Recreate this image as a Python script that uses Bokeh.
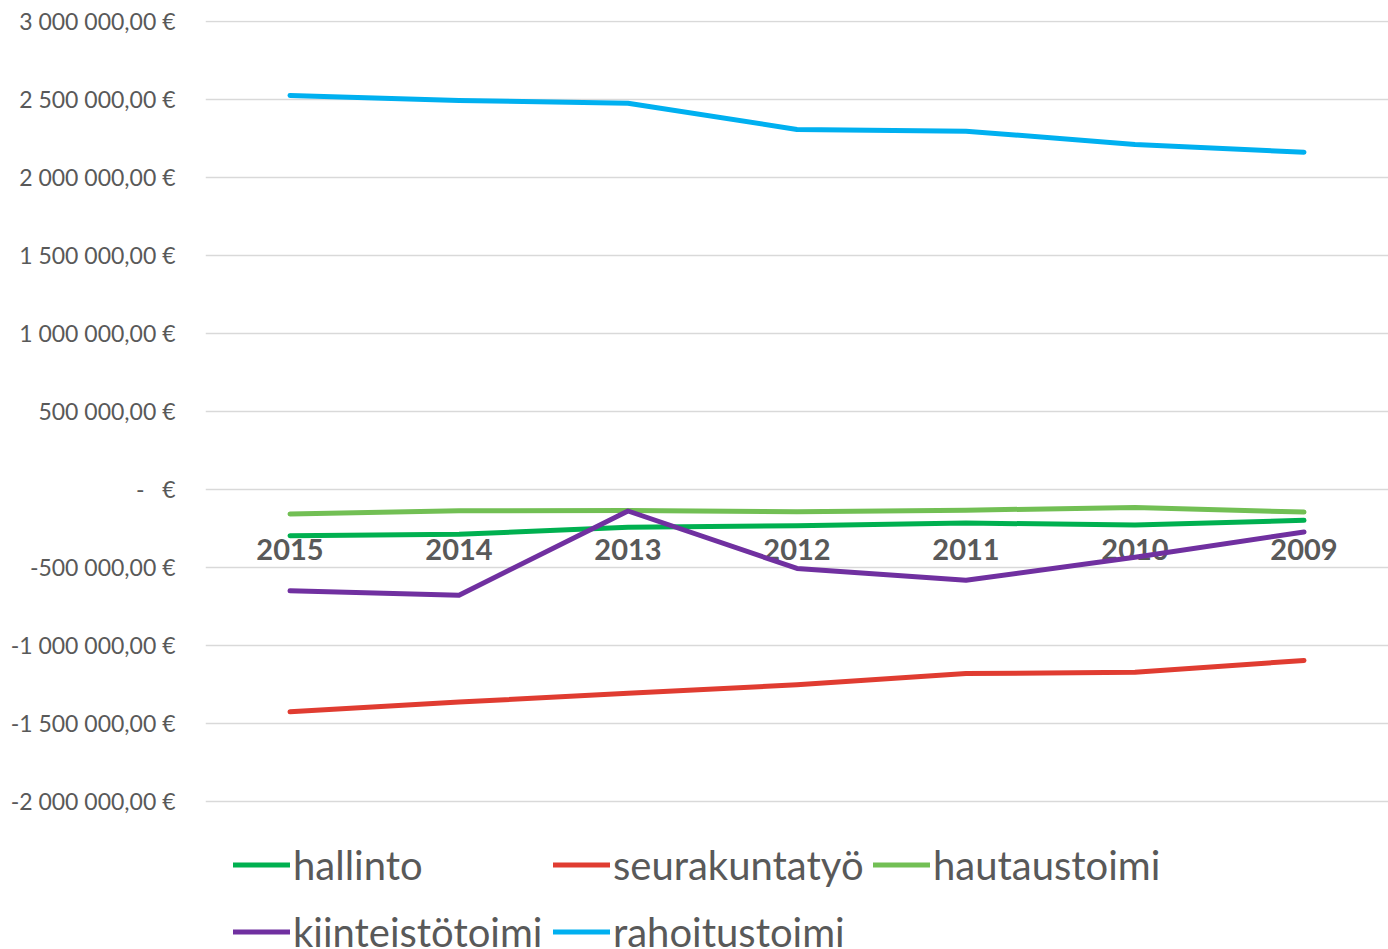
from bokeh.plotting import figure
from bokeh.models import (ColumnDataSource, FactorRange, Range1d, FixedTicker,
                          CustomJSTickFormatter, Legend, LegendItem)
from bokeh.core.properties import value
from bokeh.embed import file_html
from bokeh.resources import INLINE

# ---- data ----
years = ["2015", "2014", "2013", "2012", "2011", "2010", "2009"]
hallinto = [-296000, -287000, -242000, -233000, -215000, -228000, -198000]
seurakuntatyo = [-1425000, -1363000, -1306000, -1252000, -1180000, -1172000, -1096000]
hautaustoimi = [-157000, -137000, -135000, -142000, -133000, -115000, -145000]
kiinteistotoimi = [-650000, -678000, -138000, -506000, -582000, -435000, -272000]
rahoitustoimi = [2526000, 2494000, 2476000, 2308000, 2297000, 2212000, 2162000]

series_keys = ["hallinto", "seurakuntatyo", "hautaustoimi", "kiinteistotoimi", "rahoitustoimi"]
series_names = ["hallinto", "seurakuntatyö", "hautaustoimi", "kiinteistötoimi", "rahoitustoimi"]
series_colors = ["#00B050", "#E03C31", "#72BF54", "#7030A0", "#00B0F0"]
y_ticks = [-2000000, -1500000, -1000000, -500000, 0, 500000, 1000000,
           1500000, 2000000, 2500000, 3000000]

source = ColumnDataSource(dict(
    years=years, hallinto=hallinto, seurakuntatyo=seurakuntatyo,
    hautaustoimi=hautaustoimi, kiinteistotoimi=kiinteistotoimi,
    rahoitustoimi=rahoitustoimi, zero=[0] * len(years)))

W, H = 1388, 949
p = figure(width=W, height=H, x_range=FactorRange(*years),
           y_range=Range1d(-2949000, 3006400), x_axis_location=None,
           output_backend="svg", toolbar_location=None,
           min_border_left=205, min_border_right=0, min_border_top=20,
           min_border_bottom=0)
p.outline_line_color = None
p.background_fill_color = "white"
p.border_fill_color = "white"
p.xgrid.visible = False
p.ygrid.ticker = FixedTicker(ticks=y_ticks)
p.ygrid.grid_line_color = "#D9D9D9"
p.ygrid.grid_line_width = 1.6

ax = p.yaxis[0]
ax.ticker = FixedTicker(ticks=y_ticks)
ax.formatter = CustomJSTickFormatter(code="""
if (Math.abs(tick) < 1) return "-\u00a0\u00a0\u00a0\u20ac";
const neg = tick < 0;
const s = Math.round(Math.abs(tick)).toString().replace(/\\B(?=(\\d{3})+(?!\\d))/g, " ");
return (neg ? "-" : "") + s + ",00 \u20ac";
""")
ax.axis_line_color = None
ax.major_tick_line_color = None
ax.minor_tick_line_color = None
ax.major_tick_in = 0
ax.major_tick_out = 0
ax.major_label_standoff = 30
ax.major_label_text_font = "Lato"
ax.major_label_text_font_size = "23px"
ax.major_label_text_color = "#595959"

# category labels placed next to the zero line
p.text(x="years", y="zero", text="years", source=source, y_offset=60,
       text_align="center", text_baseline="middle",
       text_font=value("Lato"), text_font_style="bold",
       text_font_size="29px", text_color="#595959")

items = []
for key, name, col in zip(series_keys, series_names, series_colors):
    r = p.line(x="years", y=key, source=source, line_color=col,
               line_width=5, line_cap="round", line_join="round")
    items.append(LegendItem(label=name, renderers=[r]))

legend = Legend(items=items, location=(28, -16), orientation="horizontal",
                ncols=3, glyph_width=57, glyph_height=67, label_height=67,
                label_width=260, label_standoff=3, spacing=0, padding=0,
                margin=0, border_line_color=None, background_fill_alpha=0,
                label_text_font="Lato", label_text_font_size="40px",
                label_text_color="#595959", label_text_baseline="middle")
p.add_layout(legend)

open("out.html", "w").write(file_html(p, INLINE))
